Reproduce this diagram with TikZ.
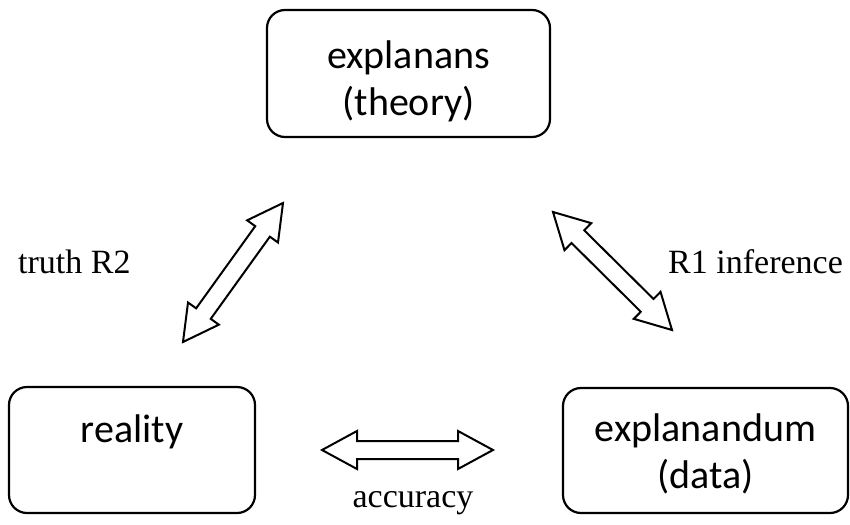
\documentclass[tikz,border=0pt]{standalone}
\usepackage{fontspec}
\setmainfont{Liberation Serif}
\newfontfamily\boxfont{Carlito}
\usetikzlibrary{calc}
\tikzset{
  box/.style={draw, line width=2.2pt, rounded corners=18pt, inner sep=0pt},
  boxtext/.style={align=center, font=\boxfont\fontsize{40}{47}\selectfont, inner sep=0pt},
  lab/.style={font=\fontsize{34}{40}\selectfont, inner sep=0pt},
  blockarrow/.style={draw, line width=2pt, line join=miter, fill=white},
}
% double block arrow between two tip coordinates
\newcommand\dblarr[2]{%
  \draw[blockarrow] (#1)
    -- ($(#1)!35pt!(#2)!19pt!90:(#1)$)
    -- ($(#1)!35pt!(#2)!9pt!90:(#1)$)
    -- ($(#2)!35pt!(#1)!9pt!-90:(#2)$)
    -- ($(#2)!35pt!(#1)!19pt!-90:(#2)$)
    -- (#2)
    -- ($(#2)!35pt!(#1)!19pt!90:(#2)$)
    -- ($(#2)!35pt!(#1)!9pt!90:(#2)$)
    -- ($(#1)!35pt!(#2)!9pt!-90:(#1)$)
    -- ($(#1)!35pt!(#2)!19pt!-90:(#1)$)
    -- cycle;}
\begin{document}
\begin{tikzpicture}[x=1pt,y=-1pt]
\useasboundingbox (0,0) rectangle (850,524);
% boxes
\node[box, minimum width=283pt, minimum height=127pt] (theory) at (408.5,73.5) {};
\node[box, minimum width=246pt, minimum height=126pt] (reality) at (132,450) {};
\node[box, minimum width=285pt, minimum height=125pt] (data) at (705.5,450.5) {};
% box texts
\node[boxtext] (theorytext) at ($(theory.center)+(0,8)$) {explanans\\(theory)};
\node[boxtext, anchor=base] (realitytext) at (132,442) {reality};
\node[boxtext] (datatext) at ($(data.center)+(0,3)$) {explanandum\\(data)};
% arrow tips
\coordinate (l1) at (183,342);
\coordinate (l2) at (283,203);
\coordinate (r1) at (553,212);
\coordinate (r2) at (672,330);
\coordinate (h1) at (322,450);
\coordinate (h2) at (493,450);
\dblarr{l1}{l2}
\dblarr{r1}{r2}
\dblarr{h1}{h2}
% labels
\node[lab, anchor=base west] (truth) at (18,273) {truth R2};
\node[lab, anchor=base west] (inference) at (668,273) {R1 inference};
\node[lab, anchor=base] (accuracy) at (413,507) {accuracy};
\end{tikzpicture}
\end{document}
